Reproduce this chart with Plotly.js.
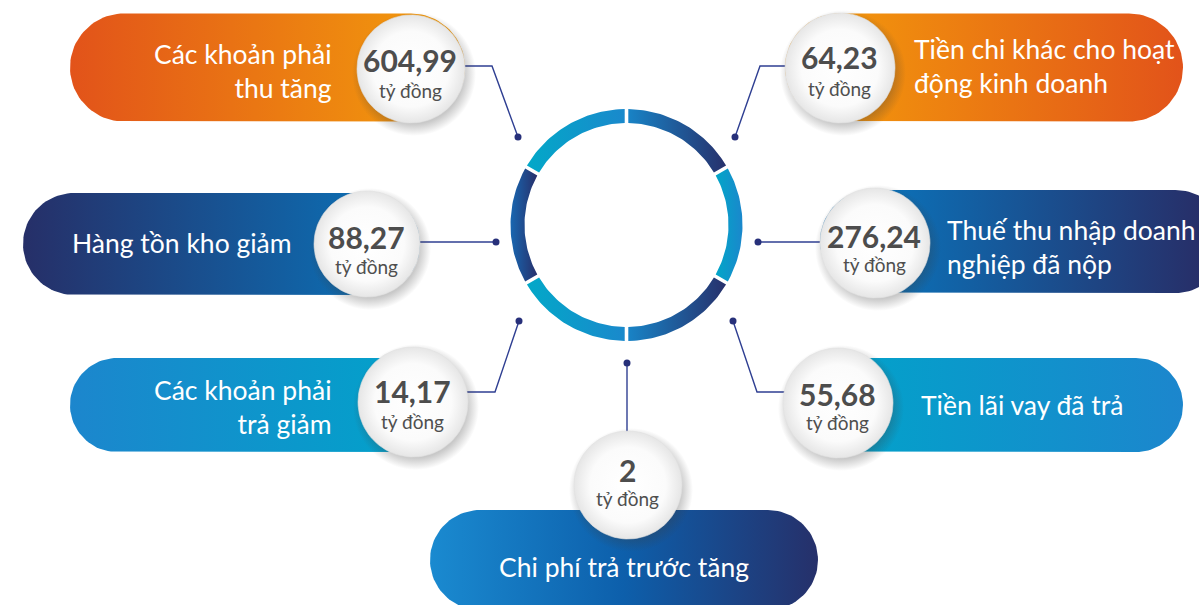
<!DOCTYPE html>
<html>
<head>
<meta charset="utf-8">
<script src="https://cdn.plot.ly/plotly-3.0.1.min.js"></script>
<style>html,body{margin:0;padding:0;background:#fff;}#chart{width:1199px;height:605px;}</style>
</head>
<body>
<div id="chart"></div>
<script>
// ---- DATA ----
const labels = [
  "Các khoản phải<br>thu tăng",
  "Tiền chi khác cho hoạt<br>động kinh doanh",
  "Hàng tồn kho giảm",
  "Thuế thu nhập doanh<br>nghiệp đã nộp",
  "Các khoản phải<br>trả giảm",
  "Tiền lãi vay đã trả",
  "Chi phí trả trước tăng"
];
const values = [604.99, 64.23, 88.27, 276.24, 14.17, 55.68, 2];
const unit = "tỷ đồng";

// ---- LAYOUT GEOMETRY (pixels) ----
const slots = [
  {pill:[70,465,67.5,108], grad:['#e2531a','#f29a0c'], gs:[70,440], c:[411,69,54], lab:[334,71,'right'], line:[[411,66],[492,66],[518,137]], ny:-9, uy:21},
  {pill:[785,1183,67.5,108], grad:['#f2950c','#e2531a'], gs:[840,1183], c:[840,68,55], lab:[912,66,'left'], line:[[840,66],[760,66],[735,137]], ny:-11, uy:20},
  {pill:[23,420,244,102], grad:['#262f68','#0a74ba'], gs:[23,405], c:[367,244,53], lab:[70,243,'left'], line:[[367,242],[496,242]], ny:-7, uy:22},
  {pill:[820,1227,241.5,103], grad:['#0b72b9','#272f69'], gs:[880,1199], c:[875,243,55], lab:[945,247,'left'], line:[[875,242],[758,242]], ny:-7, uy:21},
  {pill:[70,461,405,94], grad:['#1c86cd','#02a2ca'], gs:[70,420], c:[413,402,55], lab:[334,407,'right'], line:[[413,392],[495,392],[519,321]], ny:-11, uy:19},
  {pill:[791,1183,405,94], grad:['#02a2ca','#1c86cd'], gs:[840,1183], c:[838,403,55], lab:[919,405,'left'], line:[[838,392],[757,392],[733,321]], ny:-9, uy:19},
  {pill:[430,818,560,100], grad:['#1a8ad0','#0d5fab','#26306a'], gs:[430,818], c:[628,485,54], lab:[624,567,'center'], line:[[627,363],[627,485]], ny:-15, uy:13}
];
const dots = [[518,137],[735,137],[496,242],[758,242],[519,321],[733,321],[627,363]];

// ring
const ring = {cx:626.5, cy:225, ro:116, ri:102, gap:1.8};
const ringSegs = [
  {a:[90,30],   col:['#1884c7','#27306b'], gs:[627,727]},
  {a:[30,-30],  col:['#02a6c8','#1a88cc'], gs:[716,742]},
  {a:[-30,-90], col:['#1884c7','#27306b'], gs:[627,727]},
  {a:[-90,-150],col:['#03a8c8','#1a88cc'], gs:[527,627]},
  {a:[210,150], col:['#1868b2','#27306b'], gs:[510,537]},
  {a:[150,90],  col:['#03a8c8','#1a88cc'], gs:[527,627]}
];

// ---- helpers ----
function stadium(x1,x2,yc,h){
  const r=h/2, xs=[], ys=[], N=48;
  for(let i=0;i<=N;i++){const t=-Math.PI/2+Math.PI*i/N; xs.push(x2-r+r*Math.cos(t)); ys.push(yc+r*Math.sin(t));}
  for(let i=0;i<=N;i++){const t=Math.PI/2+Math.PI*i/N; xs.push(x1+r+r*Math.cos(t)); ys.push(yc+r*Math.sin(t));}
  xs.push(xs[0]); ys.push(ys[0]);
  return [xs,ys];
}
function circ(cx,cy,r){
  const xs=[],ys=[],N=90;
  for(let i=0;i<=N;i++){const t=2*Math.PI*i/N; xs.push(cx+r*Math.cos(t)); ys.push(cy+r*Math.sin(t));}
  return [xs,ys];
}
function arcSeg(a1,a2){
  const xs=[],ys=[],N=40, d=Math.PI/180;
  const go=ring.gap/ring.ro, gi=ring.gap/ring.ri;
  const s1=a1*d-go, e1=a2*d+go;
  for(let i=0;i<=N;i++){const t=s1+(e1-s1)*i/N; xs.push(ring.cx+ring.ro*Math.cos(t)); ys.push(ring.cy-ring.ro*Math.sin(t));}
  const s2=a2*d+gi, e2=a1*d-gi;
  for(let i=0;i<=N;i++){const t=s2+(e2-s2)*i/N; xs.push(ring.cx+ring.ri*Math.cos(t)); ys.push(ring.cy-ring.ri*Math.sin(t));}
  xs.push(xs[0]); ys.push(ys[0]);
  return [xs,ys];
}
function cs(cols){return cols.map((c,i)=>[i/(cols.length-1),c]);}
function fmt(v){return String(v).replace('.',',');}

const traces=[];
// pills
slots.forEach(s=>{
  const [xs,ys]=stadium(s.pill[0],s.pill[1],s.pill[2],s.pill[3]);
  traces.push({x:xs,y:ys,type:'scatter',mode:'lines',fill:'toself',line:{width:0,color:'rgba(0,0,0,0)'},
    fillgradient:{type:'horizontal',colorscale:cs(s.grad),start:s.gs[0],stop:s.gs[1]},hoverinfo:'skip'});
});
// ring
ringSegs.forEach(g=>{
  const [xs,ys]=arcSeg(g.a[0],g.a[1]);
  traces.push({x:xs,y:ys,type:'scatter',mode:'lines',fill:'toself',line:{width:0,color:'rgba(0,0,0,0)'},
    fillgradient:{type:'horizontal',colorscale:cs(g.col),start:g.gs[0],stop:g.gs[1]},hoverinfo:'skip'});
});
// connector lines
slots.forEach(s=>{
  traces.push({x:s.line.map(p=>p[0]),y:s.line.map(p=>p[1]),type:'scatter',mode:'lines',
    line:{color:'#2f3f92',width:1.4},hoverinfo:'skip'});
});
// dots
traces.push({x:dots.map(p=>p[0]),y:dots.map(p=>p[1]),type:'scatter',mode:'markers',
  marker:{size:7,color:'#27307a'},hoverinfo:'skip'});
// shadows & circles
slots.forEach(s=>{
  const [cx,cy,r]=s.c;
  const R=r+8;
  const [sx,sy]=circ(cx+3,cy+5,R);
  const k=r/R;
  traces.push({x:sx,y:sy,type:'scatter',mode:'lines',fill:'toself',line:{width:0,color:'rgba(0,0,0,0)'},
    fillgradient:{type:'radial',colorscale:[[0,'rgba(60,60,60,0.35)'],[k*0.92,'rgba(60,60,60,0.28)'],[1,'rgba(60,60,60,0)']]},hoverinfo:'skip'});
  const [xs,ys]=circ(cx,cy,r);
  traces.push({x:xs,y:ys,type:'scatter',mode:'lines',fill:'toself',line:{width:0.6,color:'#e0e0e0'},
    fillgradient:{type:'radial',colorscale:[[0,'#ffffff'],[0.7,'#fbfbfb'],[1,'#e6e6e6']]},hoverinfo:'skip'});
});

const annotations=[];
slots.forEach((s,i)=>{
  annotations.push({x:s.lab[0],y:s.lab[1],xref:'x',yref:'y',text:labels[i],showarrow:false,
    xanchor:s.lab[2],yanchor:'middle',align:s.lab[2],font:{family:'Lato',size:26.5,color:'#ffffff'}});
  annotations.push({x:s.c[0]-1,y:s.c[1]+s.ny,xref:'x',yref:'y',text:fmt(values[i]),showarrow:false,borderpad:0,
    xanchor:'center',yanchor:'middle',font:{family:'Lato',size:30,color:'#4d4d4d',weight:700}});
  annotations.push({x:s.c[0]-1,y:s.c[1]+s.uy,xref:'x',yref:'y',text:unit,showarrow:false,borderpad:0,
    xanchor:'center',yanchor:'middle',font:{family:'Lato',size:19,color:'#4f4f4f'}});
});

const layout={
  width:1199,height:605,margin:{l:0,r:0,t:0,b:0},
  paper_bgcolor:'#ffffff',plot_bgcolor:'#ffffff',showlegend:false,
  xaxis:{range:[0,1199],visible:false,fixedrange:true},
  yaxis:{range:[605,0],visible:false,fixedrange:true},
  annotations:annotations,hovermode:false
};
Plotly.newPlot('chart',traces,layout,{staticPlot:true,displayModeBar:false});
</script>
</body>
</html>
